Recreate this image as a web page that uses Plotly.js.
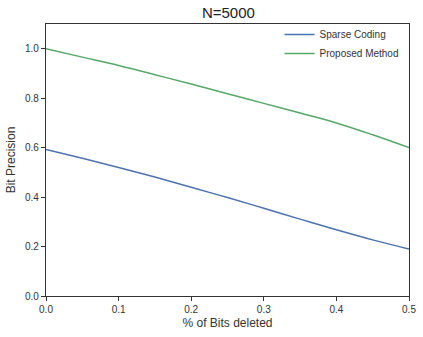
<!DOCTYPE html>
<html>
<head>
<meta charset="utf-8">
<script src="https://cdn.plot.ly/plotly-3.0.1.min.js"></script>
<style>
  body { margin: 0; background: #fff; }
  #plot { width: 423px; height: 337px; }
</style>
</head>
<body>
<div id="plot"></div>
<script>
// fraction of bits deleted
let deleted = [0.0, 0.05, 0.1, 0.15, 0.2, 0.25, 0.3, 0.35, 0.4, 0.45, 0.5];

// Bit precision, sparse coding
let sparseCoding = [0.593, 0.557, 0.52, 0.481, 0.44, 0.398, 0.355, 0.311, 0.268, 0.227, 0.19];

// Bit precision, proposed method
let proposed = [1.0, 0.966, 0.932, 0.895, 0.857, 0.818, 0.779, 0.740, 0.70, 0.652, 0.60];

let trace1 = {
  x: deleted,
  y: sparseCoding,
  name: "Sparse Coding",
  mode: "lines",
  line: {color: "#4C72B0", width: 1.5, shape: "spline"}
};

let trace2 = {
  x: deleted,
  y: proposed,
  name: "Proposed Method",
  mode: "lines",
  line: {color: "#55A868", width: 1.5, shape: "spline"}
};

let axisStyle = {
  showgrid: false,
  zeroline: false,
  showline: true,
  mirror: true,
  linecolor: "#333",
  linewidth: 1.2,
  ticks: "outside",
  ticklen: 4,
  tickcolor: "#333",
  tickfont: {size: 10, color: "#333"}
};

let layout = {
  width: 423,
  height: 337,
  margin: {l: 46, r: 14, t: 24, b: 41},
  paper_bgcolor: "#fff",
  plot_bgcolor: "#fff",
  font: {family: "Liberation Sans, Arial, sans-serif", color: "#333"},
  title: {text: "N=5000", font: {size: 15, color: "#222"}, x: 0.54, xanchor: "center", y: 0.962, yanchor: "middle"},
  xaxis: Object.assign({}, axisStyle, {
    range: [0, 0.5],
    dtick: 0.1,
    tickformat: ".1f",
    title: {text: "% of Bits deleted", font: {size: 12}, standoff: 4}
  }),
  yaxis: Object.assign({}, axisStyle, {
    range: [0, 1.1],
    tickvals: [0, 0.2, 0.4, 0.6, 0.8, 1.0],
    tickformat: ".1f",
    title: {text: "Bit Precision", font: {size: 12}, standoff: 6}
  }),
  legend: {
    x: 0.985, y: 1.015, xanchor: "right", yanchor: "top",
    bgcolor: "rgba(0,0,0,0)",
    font: {size: 10, color: "#333"},
    tracegroupgap: 0,
    itemwidth: 30
  },
  showlegend: true
};

Plotly.newPlot("plot", [trace1, trace2], layout, {displayModeBar: false, staticPlot: true});
</script>
</body>
</html>
